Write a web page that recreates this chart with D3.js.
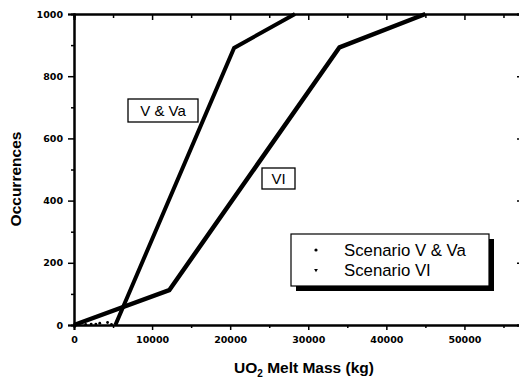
<!DOCTYPE html>
<html>
<head>
<meta charset="utf-8">
<script src="https://cdn.jsdelivr.net/npm/d3@7"></script>
<style>
  html, body { margin: 0; padding: 0; background: #fff; }
  #graf { width: 519px; height: 379px; }
  .tick text { font-family: 'DejaVu Sans', sans-serif; font-weight: bold; font-size: 9.5px; }
</style>
</head>
<body>
<div id="graf"></div>
<script>
// -- Datos
vvaMass = [5300, 20500, 28300]
vvaOcc  = [0, 891, 1000]
viMass  = [0, 12200, 34000, 45000]
viOcc   = [0, 112, 893, 1000]
// puntos sueltos cerca de la base (Scenario V & Va)
dotMass = [1500, 2200, 2800, 3300, 4300, 4800]
dotOcc  = [2, 3, 3, 6, 8, 2]

xTicks = [0, 10000, 20000, 30000, 40000, 50000]
xMinor = [5000, 15000, 25000, 35000, 45000, 55000]
yTicks = [0, 200, 400, 600, 800, 1000]
yMinor = [100, 300, 500, 700, 900]

// -- Configuración del canvas
ancho_total = 519
alto_total = 379
margins = {top: 14, left: 74, right: -4, bottom: 54}
ancho = ancho_total - margins.left - margins.right
alto  = alto_total - margins.top - margins.bottom

svg = d3.select('#graf').append('svg')
        .attr('width', ancho_total)
        .attr('height', alto_total)

g = svg.append('g')
       .attr('transform', `translate(${margins.left}, ${margins.top})`)

// -- Escaladores
x = d3.scaleLinear().domain([0, 57500]).range([0, ancho])
y = d3.scaleLinear().domain([0, 1000]).range([alto, 0])

// -- Ejes principales
g.append('g')
    .attr('transform', `translate(0,${alto})`)
    .call(d3.axisBottom(x).tickValues(xTicks).tickFormat(d3.format('d')).tickSize(5).tickPadding(6))
g.append('g')
    .attr('transform', `translate(0,${alto})`)
    .call(d3.axisBottom(x).tickValues(xMinor).tickFormat('').tickSize(3))
g.append('g')
    .call(d3.axisLeft(y).tickValues(yTicks).tickFormat(d3.format('d')).tickSize(6).tickPadding(5))
g.append('g')
    .call(d3.axisLeft(y).tickValues(yMinor).tickFormat('').tickSize(3))
// -- Ejes espejo (ticks hacia adentro)
g.append('g')
    .call(d3.axisBottom(x).tickValues(xTicks).tickFormat('').tickSize(6))
g.append('g')
    .call(d3.axisBottom(x).tickValues(xMinor).tickFormat('').tickSize(4))
g.append('g')
    .attr('transform', `translate(${ancho},0)`)
    .call(d3.axisRight(y).tickValues(yTicks).tickFormat('').tickSize(-6))
g.append('g')
    .attr('transform', `translate(${ancho},0)`)
    .call(d3.axisRight(y).tickValues(yMinor).tickFormat('').tickSize(-3))

g.selectAll('.domain').attr('stroke-width', 2)
g.selectAll('.tick line').attr('stroke-width', 1.5)

// -- Curvas
line = d3.line().x(d => x(d[0])).y(d => y(d[1]))

g.append('path')
    .datum(d3.zip(vvaMass, vvaOcc))
    .attr('d', line)
    .attr('fill', 'none')
    .attr('stroke', '#000')
    .attr('stroke-width', 4)
    .attr('stroke-linejoin', 'miter')

g.append('path')
    .datum(d3.zip(viMass, viOcc))
    .attr('d', line)
    .attr('fill', 'none')
    .attr('stroke', '#000')
    .attr('stroke-width', 4.5)
    .attr('stroke-linejoin', 'miter')

g.selectAll('circle.dot')
    .data(d3.zip(dotMass, dotOcc))
    .enter().append('circle')
    .attr('class', 'dot')
    .attr('cx', d => x(d[0]))
    .attr('cy', d => y(d[1]))
    .attr('r', 1.4)
    .attr('fill', '#000')

// -- Etiquetas en cajas
function caja (cx, cy, w, h, txt) {
    g.append('rect')
        .attr('x', cx).attr('y', cy)
        .attr('width', w).attr('height', h)
        .attr('fill', '#fff').attr('stroke', '#000').attr('stroke-width', 1.3)
    g.append('text')
        .attr('x', cx + w / 2).attr('y', cy + h / 2 + 5.5)
        .attr('text-anchor', 'middle')
        .attr('font-family', 'Liberation Sans, Arial, sans-serif')
        .attr('font-size', '15px')
        .text(txt)
}
caja(128 - margins.left, 99 - margins.top, 70, 23, 'V & Va')
caja(262 - margins.left, 168 - margins.top, 33, 21, 'VI')

// -- Leyenda
leg = g.append('g').attr('transform', `translate(${291 - margins.left}, ${234 - margins.top})`)
leg.append('rect')
    .attr('x', 5).attr('y', 5)
    .attr('width', 198).attr('height', 52)
    .attr('fill', '#000')
leg.append('rect')
    .attr('x', 0).attr('y', 0)
    .attr('width', 198).attr('height', 52)
    .attr('fill', '#fff').attr('stroke', '#000').attr('stroke-width', 1.2)
leg.append('circle').attr('cx', 25).attr('cy', 16).attr('r', 1.6).attr('fill', '#000')
leg.append('path')
    .attr('d', d3.symbol(d3.symbolTriangle, 6)())
    .attr('transform', 'translate(25,36) rotate(180)')
    .attr('fill', '#000')
leg.selectAll('text.leg')
    .data(['Scenario V & Va', 'Scenario VI'])
    .enter().append('text')
    .attr('x', 53)
    .attr('y', (d, i) => 22 + i * 20)
    .attr('font-family', 'Liberation Sans, Arial, sans-serif')
    .attr('font-size', '16.8px')
    .text(d => d)

// -- Títulos de ejes
svg.append('text')
    .attr('transform', 'translate(21, 179) rotate(-90)')
    .attr('text-anchor', 'middle')
    .attr('font-family', 'Liberation Sans, Arial, sans-serif')
    .attr('font-weight', 'bold')
    .attr('font-size', '15.5px')
    .text('Occurrences')

xt = svg.append('text')
    .attr('x', 304)
    .attr('y', 373)
    .attr('text-anchor', 'middle')
    .attr('font-family', 'Liberation Sans, Arial, sans-serif')
    .attr('font-weight', 'bold')
    .attr('font-size', '15.5px')
xt.append('tspan').text('UO')
xt.append('tspan').attr('font-size', '10px').attr('dy', 4).text('2')
xt.append('tspan').attr('dy', -4).text(' Melt Mass (kg)')
</script>
</body>
</html>
